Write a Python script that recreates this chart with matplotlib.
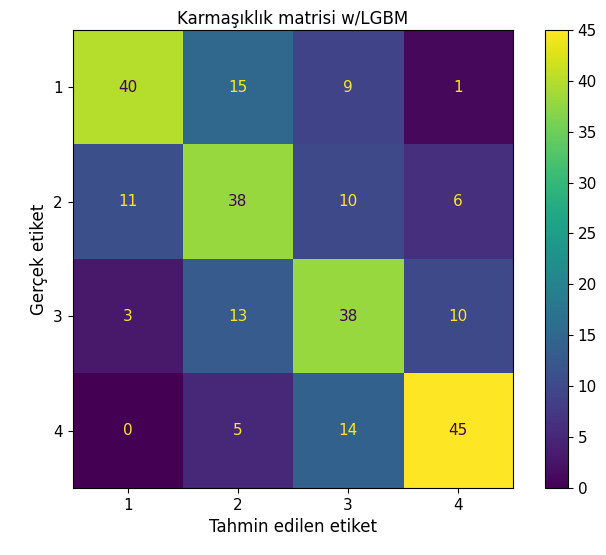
import numpy as np
import matplotlib.pyplot as plt

labels = ["1", "2", "3", "4"]
cm = np.array([[40, 15, 9, 1],
               [11, 38, 10, 6],
               [3, 13, 38, 10],
               [0, 5, 14, 45]])

fig = plt.figure(figsize=(6.06, 5.55), dpi=100)
ax = fig.add_axes([0.12, 0.121, 0.727, 0.825])
cax = fig.add_axes([0.899, 0.121, 0.038, 0.825])

cmap = plt.get_cmap('viridis')
im = ax.imshow(cm, cmap=cmap, vmin=0, vmax=45, aspect='auto')
thresh = (cm.max() + cm.min()) / 2.0
for i in range(cm.shape[0]):
    for j in range(cm.shape[1]):
        color = cmap(0) if cm[i, j] > thresh else cmap(1.0)
        ax.text(j, i, str(cm[i, j]), ha='center', va='center', color=color, fontsize=11)

ax.set_xticks(range(4))
ax.set_yticks(range(4))
ax.set_xticklabels(labels, fontsize=11)
ax.set_yticklabels(labels, fontsize=11)
ax.set_xlabel('Tahmin edilen etiket', fontsize=12)
ax.set_ylabel('Gerçek etiket', fontsize=12)
ax.set_title('Karmaşıklık matrisi w/LGBM', fontsize=12, pad=4)

cb = fig.colorbar(im, cax=cax)
cb.set_ticks(range(0, 46, 5))
cb.ax.tick_params(labelsize=11)

plt.savefig('out.png', dpi=100)
